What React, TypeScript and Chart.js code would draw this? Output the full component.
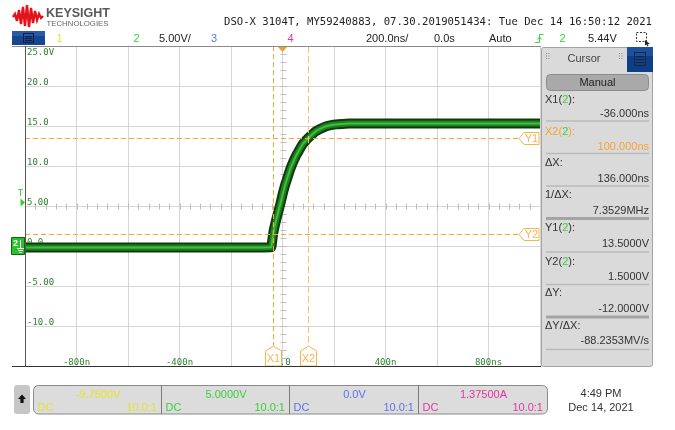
import React, { useEffect, useRef } from "react";
import { Chart, registerables } from "chart.js";

Chart.register(...registerables);

// ---- Channel 2 acquisition (time in ns, volts) ----
const timeNs = [-1000, -600, -200, -44, -40, -36, -28, -18, -8, 0, 10, 20, 30, 40, 53, 65, 79, 90, 100, 115, 130, 150, 168, 190, 207, 230, 259, 300, 400, 600, 800, 1000];
const ch2Volts = [-0.2, -0.2, -0.2, -0.15, 0.6, 1.6, 2.8, 4.1, 5.3, 6.4, 7.6, 8.6, 9.6, 10.4, 11.3, 12.0, 12.75, 13.15, 13.5, 13.95, 14.35, 14.7, 14.95, 15.12, 15.2, 15.26, 15.3, 15.3, 15.3, 15.3, 15.3, 15.3];

// ---- axes ----
const timeRange = [-1000, 1000];
const voltRange = [-15, 25];
const xTickValues = [-800, -400, 0, 400, 800];
const xTickLabels = ["-800n", "-400n", "0.0", "400n", "800ns"];
const yTickValues = [25, 20, 15, 10, 5, 0, -5, -10];
const yTickLabels = ["25.0V", "20.0", "15.0", "10.0", "5.00", "0.0", "-5.00", "-10.0"];

// ---- cursors / markers ----
const cursorX = [-36, 100]; // ns
const cursorY = [13.5, 1.5]; // V
const triggerLevel = 5.44;
const groundLevel = 0;
const triggerTime = 0;

// ---- channel settings ----
const chanValues = ["-9.7500V", "5.0000V", "0.0V", "1.37500A"];
const chanCoupling = ["DC", "DC", "DC", "DC"];
const chanProbe = ["10.0:1", "10.0:1", "10.0:1", "10.0:1"];

const SANS = "'Liberation Sans', Arial, sans-serif";
const MONO = "'DejaVu Sans Mono', monospace";
const C1 = "#e4e42e";
const C2 = "#3ccf3c";
const C3 = "#5b74e6";
const C4 = "#e2369e";
const ORANGE = "#f4a436";
const TAG = "#f7b44c";

const scopePlugin = {
  id: "scopeDecor",
  beforeDatasetsDraw(chart: any) {
    const { ctx, chartArea: a, scales } = chart;
    const xs = scales.x;
    const ys = scales.y;
    ctx.save();
    const cx = Math.round(xs.getPixelForValue(triggerTime)) + 0.5;
    const cy = Math.round(ys.getPixelForValue((voltRange[0] + voltRange[1]) / 2)) + 0.5;
    ctx.strokeStyle = "#bdbdbd";
    ctx.lineWidth = 1;
    ctx.beginPath();
    for (let v = voltRange[0] + 1; v < voltRange[1]; v += 1) {
      const py = Math.round(ys.getPixelForValue(v)) + 0.5;
      ctx.moveTo(cx - 3, py);
      ctx.lineTo(cx + 3, py);
    }
    for (let t = timeRange[0] + 40; t < timeRange[1]; t += 40) {
      const px = Math.round(xs.getPixelForValue(t)) + 0.5;
      ctx.moveTo(px, cy - 3);
      ctx.lineTo(px, cy + 3);
    }
    ctx.stroke();

    ctx.font = `9px ${MONO}`;
    ctx.fillStyle = "#2f832f";
    ctx.textAlign = "left";
    ctx.textBaseline = "alphabetic";
    yTickValues.forEach((v, i) => {
      let py = ys.getPixelForValue(v) - 1;
      if (py < a.top + 9) py = a.top + 9;
      ctx.fillText(yTickLabels[i], a.left + 2, py);
    });
    ctx.textAlign = "center";
    xTickValues.forEach((t, i) => {
      ctx.fillText(xTickLabels[i], xs.getPixelForValue(t), a.bottom - 1);
    });
    ctx.restore();
  },
  afterDatasetsDraw(chart: any) {
    const { ctx, chartArea: a, scales } = chart;
    const xs = scales.x;
    const ys = scales.y;
    ctx.save();
    ctx.lineWidth = 1;

    // horizontal cursors
    cursorY.forEach((v, i) => {
      const py = Math.round(ys.getPixelForValue(v)) + 0.5;
      const l = a.right - 21;
      const r = a.right - 1;
      ctx.strokeStyle = ORANGE;
      ctx.setLineDash([5, 3]);
      ctx.beginPath();
      ctx.moveTo(a.left, py);
      ctx.lineTo(l, py);
      ctx.stroke();
      ctx.setLineDash([]);
      ctx.beginPath();
      ctx.moveTo(l, py);
      ctx.lineTo(l + 5, py - 6);
      ctx.lineTo(r, py - 6);
      ctx.lineTo(r, py + 6);
      ctx.lineTo(l + 5, py + 6);
      ctx.closePath();
      ctx.fillStyle = "#fff";
      ctx.fill();
      ctx.strokeStyle = TAG;
      ctx.stroke();
      ctx.fillStyle = TAG;
      ctx.font = `11px ${SANS}`;
      ctx.textAlign = "center";
      ctx.textBaseline = "middle";
      ctx.fillText(`Y${i + 1}`, l + 12.5, py + 0.5);
    });

    // vertical cursors
    cursorX.forEach((t, i) => {
      const px = Math.round(xs.getPixelForValue(t)) + 0.5;
      const tip = a.bottom - 20;
      ctx.strokeStyle = i === 0 ? "#f5a636" : "#f9c270";
      ctx.setLineDash(i === 0 ? [5, 3] : [7, 3]);
      ctx.beginPath();
      ctx.moveTo(px, a.top);
      ctx.lineTo(px, tip);
      ctx.stroke();
      ctx.setLineDash([]);
      ctx.beginPath();
      ctx.moveTo(px, tip);
      ctx.lineTo(px + 8, tip + 5);
      ctx.lineTo(px + 8, a.bottom);
      ctx.lineTo(px - 8, a.bottom);
      ctx.lineTo(px - 8, tip + 5);
      ctx.closePath();
      ctx.fillStyle = "#fff";
      ctx.fill();
      ctx.strokeStyle = TAG;
      ctx.stroke();
      ctx.fillStyle = TAG;
      ctx.font = `11px ${SANS}`;
      ctx.textAlign = "center";
      ctx.textBaseline = "middle";
      ctx.fillText(`X${i + 1}`, px, a.bottom - 7);
    });

    // frame
    ctx.strokeStyle = "#8a8a8a";
    ctx.beginPath();
    ctx.moveTo(12, a.top + 0.5);
    ctx.lineTo(a.right + 1, a.top + 0.5);
    ctx.stroke();
    ctx.strokeStyle = "#333";
    ctx.beginPath();
    ctx.moveTo(12, a.bottom + 0.5);
    ctx.lineTo(a.right + 1, a.bottom + 0.5);
    ctx.stroke();
    ctx.strokeStyle = "#555";
    ctx.beginPath();
    ctx.moveTo(a.left + 0.5, a.top);
    ctx.lineTo(a.left + 0.5, a.bottom + 1);
    ctx.stroke();

    // trigger position marker (top)
    const tx = xs.getPixelForValue(triggerTime);
    ctx.fillStyle = "#f0a020";
    ctx.beginPath();
    ctx.moveTo(tx - 4.5, a.top + 1);
    ctx.lineTo(tx + 4.5, a.top + 1);
    ctx.lineTo(tx, a.top + 6);
    ctx.closePath();
    ctx.fill();

    // trigger level marker (left)
    const ty = ys.getPixelForValue(triggerLevel);
    ctx.fillStyle = "#2fcf2f";
    ctx.beginPath();
    ctx.moveTo(20.5, ty - 4);
    ctx.lineTo(20.5, ty + 4);
    ctx.lineTo(25, ty);
    ctx.closePath();
    ctx.fill();
    ctx.font = `9px ${MONO}`;
    ctx.textAlign = "center";
    ctx.textBaseline = "alphabetic";
    ctx.fillText("T", 20.5, ty - 6);

    // ground marker channel 2
    const gy = Math.round(ys.getPixelForValue(groundLevel));
    ctx.fillStyle = "#2bbf2b";
    ctx.strokeStyle = "#0c6a0c";
    ctx.beginPath();
    ctx.rect(11.5, gy - 8.5, 13, 17);
    ctx.fill();
    ctx.stroke();
    ctx.fillStyle = "#fff";
    ctx.font = `bold 9px ${SANS}`;
    ctx.textAlign = "left";
    ctx.fillText("2", 13, gy + 0);
    ctx.strokeStyle = "#fff";
    ctx.beginPath();
    ctx.moveTo(20.5, gy - 6);
    ctx.lineTo(20.5, gy + 2);
    ctx.moveTo(17, gy + 2.5);
    ctx.lineTo(24, gy + 2.5);
    ctx.moveTo(18, gy + 4.5);
    ctx.lineTo(23, gy + 4.5);
    ctx.moveTo(19.5, gy + 6.5);
    ctx.lineTo(21.5, gy + 6.5);
    ctx.stroke();
    ctx.restore();
  },
};

function fmt(v: number, d: number) {
  return v.toFixed(d);
}

export default function App() {
  const canvasRef = useRef<HTMLCanvasElement | null>(null);

  useEffect(() => {
    const canvas = canvasRef.current;
    if (!canvas) return;
    const pts = timeNs.map((t, i) => ({ x: t, y: ch2Volts[i] }));
    const common = {
      data: pts,
      pointRadius: 0,
      cubicInterpolationMode: "monotone" as const,
      borderJoinStyle: "round" as const,
      fill: false,
    };
    const chart = new Chart(canvas, {
      type: "line",
      data: {
        datasets: [
          { ...common, label: "c", borderColor: "#3fbf3f", borderWidth: 2 },
          { ...common, label: "m", borderColor: "#1f801f", borderWidth: 6 },
          { ...common, label: "o", borderColor: "#0f3a0f", borderWidth: 10 },
        ],
      },
      options: {
        animation: false,
        responsive: false,
        maintainAspectRatio: false,
        events: [],
        layout: { padding: { left: 25, top: 46, right: 135, bottom: 64 } },
        plugins: { legend: { display: false }, tooltip: { enabled: false } },
        scales: {
          x: {
            type: "linear",
            min: timeRange[0],
            max: timeRange[1],
            ticks: { stepSize: 200, display: false },
            grid: { color: "#d6d6d6", drawTicks: false, lineWidth: 1 },
            border: { display: false },
          },
          y: {
            type: "linear",
            min: voltRange[0],
            max: voltRange[1],
            ticks: { stepSize: 5, display: false },
            grid: { color: "#d6d6d6", drawTicks: false, lineWidth: 1 },
            border: { display: false },
          },
        },
      },
      plugins: [scopePlugin],
    });
    return () => chart.destroy();
  }, []);

  const dX = cursorX[1] - cursorX[0];
  const dY = cursorY[1] - cursorY[0];
  const invDX = 1000 / dX; // MHz
  const slope = (dY / dX) * 1000; // MV/s

  const sections = [
    { x0: 33, color: C1 },
    { x0: 161, color: C2 },
    { x0: 289, color: C3 },
    { x0: 418, color: C4 },
  ];
  const sectionW = [128, 128, 129, 129];

  const panelText = { fontFamily: SANS, fontSize: 11, fill: "#333" } as any;

  return (
    <div
      style={{
        position: "absolute",
        left: 0,
        top: 0,
        width: 675,
        height: 430,
        background: "#fff",
        overflow: "hidden",
      }}
    >
      <canvas
        ref={canvasRef}
        width={675}
        height={430}
        style={{ position: "absolute", left: 0, top: 0, width: 675, height: 430 }}
      />
      <svg
        width={675}
        height={430}
        style={{ position: "absolute", left: 0, top: 0, pointerEvents: "none" }}
      >
        {/* logo */}
        <polyline
          points="13,17 15,14 17,21 19,10 21,24 23,7 25,26 27,5 29,27 31,8 33,23 35,11 37,20 39,14 41,18 43,16"
          fill="none"
          stroke="#e3131b"
          strokeWidth={2.4}
          strokeLinejoin="miter"
        />
        <text x={46} y={17.3} fontFamily={SANS} fontWeight="bold" fontSize={13.5} fill="#5a5a5a" textLength={64} lengthAdjust="spacingAndGlyphs">
          KEYSIGHT
        </text>
        <text x={46.5} y={26} fontFamily={SANS} fontSize={7.5} fill="#666" textLength={62} lengthAdjust="spacingAndGlyphs">
          TECHNOLOGIES
        </text>
        <text x={224} y={24.7} fontFamily={MONO} fontSize={10.6} fill="#222" textLength={428} lengthAdjust="spacingAndGlyphs">
          DSO-X 3104T, MY59240883, 07.30.2019051434: Tue Dec 14 16:50:12 2021
        </text>

        {/* top-left menu button */}
        <rect x={12} y={31} width={33} height={14} fill="#16468e" />
        <rect x={12} y={31} width={33} height={5} fill="#2a5aa6" />
        <rect x={23.5} y={33.5} width={10} height={9} fill="none" stroke="#0d1f3e" />
        <line x1={25} y1={36.5} x2={32} y2={36.5} stroke="#0d1f3e" />
        <line x1={25} y1={38.5} x2={32} y2={38.5} stroke="#0d1f3e" />
        <line x1={25} y1={40.5} x2={32} y2={40.5} stroke="#0d1f3e" />

        {/* status row */}
        <g fontFamily={SANS} fontSize={11}>
          <text x={59.5} y={42} textAnchor="middle" fill={C1}>1</text>
          <text x={136.5} y={42} textAnchor="middle" fill={C2}>2</text>
          <text x={159} y={42} fill="#222">5.00V/</text>
          <text x={214} y={42} textAnchor="middle" fill={C3}>3</text>
          <text x={290.5} y={42} textAnchor="middle" fill={C4}>4</text>
          <text x={366} y={42} fill="#222">200.0ns/</text>
          <text x={434} y={42} fill="#222">0.0s</text>
          <text x={489} y={42} fill="#222">Auto</text>
          <text x={562.5} y={42} textAnchor="middle" fill={C2}>2</text>
          <text x={588} y={42} fill="#222">5.44V</text>
        </g>
        <path d="M535,42.5 H539.5 V34.5 H543.5" fill="none" stroke={C2} strokeWidth={1} />
        <path d="M537.5,39.5 L539.5,37 L541.5,39.5" fill="none" stroke={C2} strokeWidth={1} />
        <rect x={636.5} y={32.5} width={10} height={9} fill="none" stroke="#333" strokeDasharray="2,1.5" />
        <path d="M645,40 L650,44 L647.5,44 L648.5,46 L647.5,46.5 L646.5,44.5 L645,45.5 Z" fill="#222" />

        {/* cursor panel */}
        <rect x={541.5} y={47.5} width={111} height={319} rx={2} fill="#dadada" stroke="#a3a3a3" />
        <rect x={627} y={47} width={26} height={25} fill="#0d3f86" />
        <rect x={627} y={47} width={26} height={9} fill="#1c4f9c" />
        <rect x={634.5} y={52.5} width={11} height={13} fill="none" stroke="#1a2440" />
        <line x1={636} y1={56.5} x2={644} y2={56.5} stroke="#1a2440" />
        <line x1={636} y1={59.5} x2={644} y2={59.5} stroke="#1a2440" />
        <line x1={636} y1={62.5} x2={644} y2={62.5} stroke="#1a2440" />
        {[0, 1].map((c) =>
          [0, 1, 2].map((r) => (
            <g key={`g${c}${r}`}>
              <rect x={546 + c * 2.5} y={53 + r * 2.5} width={1} height={1} fill="#888" />
              <rect x={619 + c * 2.5} y={53 + r * 2.5} width={1} height={1} fill="#888" />
            </g>
          ))
        )}
        <text x={584} y={62} textAnchor="middle" {...panelText} fill="#444">Cursor</text>
        <rect x={546.5} y={74.5} width={102} height={16} rx={4} fill="#a9a9a9" stroke="#8c8c8c" />
        <text x={597.5} y={86} textAnchor="middle" {...panelText} fill="#222">Manual</text>

        <g {...panelText}>
          <text x={545} y={102.5}>X1(<tspan fill={C2}>2</tspan>):</text>
          <text x={649} y={117} textAnchor="end">{fmt(cursorX[0], 3)}ns</text>
          <text x={545} y={134.5} fill={ORANGE}>X2(<tspan fill={C2}>2</tspan>):</text>
          <text x={649} y={150} textAnchor="end" fill={ORANGE}>{fmt(cursorX[1], 3)}ns</text>
          <text x={545} y={166}>ΔX:</text>
          <text x={649} y={182} textAnchor="end">{fmt(dX, 3)}ns</text>
          <text x={545} y={198}>1/ΔX:</text>
          <text x={649} y={214} textAnchor="end">{fmt(invDX, 4)}MHz</text>
          <text x={545} y={231}>Y1(<tspan fill={C2}>2</tspan>):</text>
          <text x={649} y={246.5} textAnchor="end">{fmt(cursorY[0], 4)}V</text>
          <text x={545} y={265}>Y2(<tspan fill={C2}>2</tspan>):</text>
          <text x={649} y={280} textAnchor="end">{fmt(cursorY[1], 4)}V</text>
          <text x={545} y={296}>ΔY:</text>
          <text x={649} y={311.5} textAnchor="end">{fmt(dY, 4)}V</text>
          <text x={545} y={329}>ΔY/ΔX:</text>
          <text x={649} y={344} textAnchor="end">{fmt(slope, 4)}MV/s</text>
        </g>
        {[121, 153.5, 186, 252, 284.5, 349.5].map((y) => (
          <line key={`s${y}`} x1={546} x2={649} y1={y} y2={y} stroke="#bababa" strokeWidth={1.5} />
        ))}
        {[218.5, 317].map((y) => (
          <line key={`t${y}`} x1={546} x2={649} y1={y} y2={y} stroke="#a4a4a4" strokeWidth={3} />
        ))}

        {/* bottom channel bar */}
        <rect x={14} y={385} width={16} height={29} rx={3} fill="#c6c6c6" />
        <path d="M22,394.5 L26,399 L23.6,399 L23.6,403 L20.4,403 L20.4,399 L18,399 Z" fill="#111" />
        <rect x={33.5} y={385.5} width={514} height={28.5} rx={5} fill="#dcdcdc" stroke="#8a8a8a" />
        {[161.5, 289.5, 418.5].map((x) => (
          <line key={`d${x}`} x1={x} x2={x} y1={386} y2={414} stroke="#7a7a7a" />
        ))}
        <g fontFamily={SANS} fontSize={11}>
          {sections.map((s, i) => (
            <g key={`c${i}`} fill={s.color}>
              <text x={s.x0 + sectionW[i] / 2 + 1} y={397.5} textAnchor="middle">{chanValues[i]}</text>
              <text x={s.x0 + 4.5} y={410.5}>{chanCoupling[i]}</text>
              <text x={s.x0 + sectionW[i] - 4} y={410.5} textAnchor="end">{chanProbe[i]}</text>
            </g>
          ))}
          <text x={601} y={397} textAnchor="middle" fill="#333">4:49 PM</text>
          <text x={601} y={410.5} textAnchor="middle" fill="#333">Dec 14, 2021</text>
        </g>
      </svg>
    </div>
  );
}
